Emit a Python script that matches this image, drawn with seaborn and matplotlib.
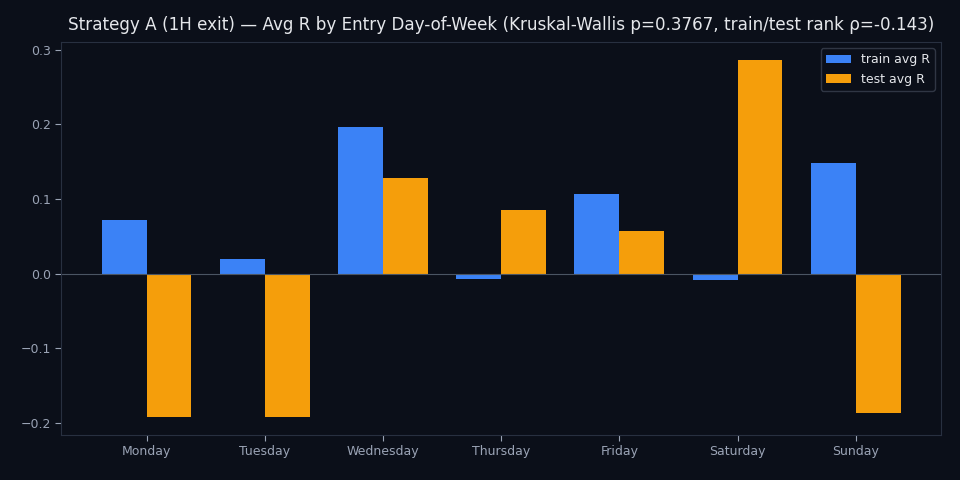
import matplotlib
matplotlib.use('Agg')
import matplotlib.pyplot as plt
import seaborn as sns
import pandas as pd

days = ['Monday', 'Tuesday', 'Wednesday', 'Thursday', 'Friday', 'Saturday', 'Sunday']
train_avg_r = [0.072, 0.019, 0.196, -0.0065, 0.107, -0.009, 0.148]
test_avg_r = [-0.192, -0.192, 0.128, 0.085, 0.057, 0.286, -0.187]

bg = '#0b0f19'
text_col = '#9aa3b5'

df = pd.DataFrame({
    'day': days * 2,
    'avg_r': train_avg_r + test_avg_r,
    'series': ['train avg R'] * len(days) + ['test avg R'] * len(days),
})

sns.set_style('dark')
plt.rcParams['font.family'] = ['DejaVu Sans']

fig, ax = plt.subplots(figsize=(9.6, 4.8), dpi=100)
fig.patch.set_facecolor(bg)
ax.set_facecolor(bg)

sns.barplot(data=df, x='day', y='avg_r', hue='series', order=days,
            hue_order=['train avg R', 'test avg R'],
            palette={'train avg R': '#3b82f6', 'test avg R': '#f59e0b'},
            width=0.76, gap=0, saturation=1, errorbar=None, linewidth=0, ax=ax)

ax.axhline(0, color='#4b5563', linewidth=0.8)
ax.set_xlim(-0.72, 6.72)
ax.set_title('Strategy A (1H exit) \u2014 Avg R by Entry Day-of-Week (Kruskal-Wallis p=0.3767, train/test rank \u03c1=-0.143)',
             color='#e5e7eb', fontsize=12.1, pad=9)
ax.set_xlabel('')
ax.set_ylabel('')
ax.tick_params(colors=text_col, labelsize=9, length=4, left=True, bottom=True)
for s in ax.spines.values():
    s.set_color('#283040')
    s.set_visible(True)
ax.grid(False)
ax.set_yticks([-0.2, -0.1, 0.0, 0.1, 0.2, 0.3])

leg = ax.legend(loc='upper right', fontsize=9, facecolor=bg, edgecolor='#3a4150',
                labelcolor='#e5e7eb', title=None)

plt.subplots_adjust(left=0.064, right=0.98, top=0.912, bottom=0.094)
plt.savefig('out.png', facecolor=bg)
